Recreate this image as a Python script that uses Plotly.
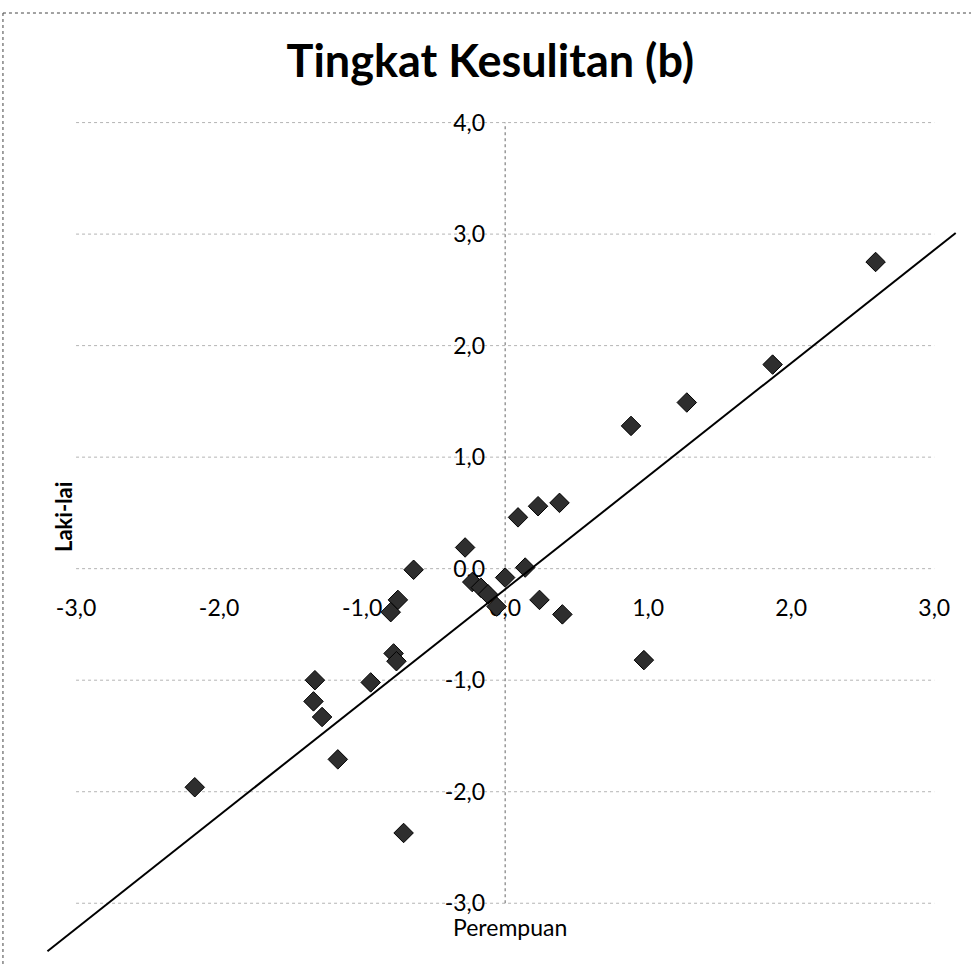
import plotly.graph_objects as go

# Item difficulty estimates (b): female group on x, male group on y
perempuan = [2.59, 1.87, 1.27, 0.88, 0.38, 0.23, 0.09, 0.14, 0.00, -0.06,
             0.24, 0.40, -0.28, -0.23, -0.17, -0.12, -0.64, -0.75, -0.80,
             -0.78, -0.76, -0.94, -1.33, -1.34, -1.28, -1.17, -2.17, -0.71, 0.97]
laki_laki = [2.75, 1.83, 1.49, 1.28, 0.59, 0.56, 0.46, 0.01, -0.08, -0.34,
             -0.28, -0.41, 0.19, -0.12, -0.17, -0.23, -0.01, -0.28, -0.39,
             -0.76, -0.83, -1.02, -1.00, -1.19, -1.33, -1.71, -1.96, -2.37, -0.82]

# Reference line endpoints
line_x = [-3.20, 3.15]
line_y = [-3.43, 3.01]

x_ticks = [-3, -2, -1, 0, 1, 2, 3]
x_labels = ["-3,0", "-2,0", "-1,0", "0,0", "1,0", "2,0", "3,0"]
y_ticks = [-3, -2, -1, 0, 1, 2, 3, 4]
y_labels = ["-3,0", "-2,0", "-1,0", "0,0", "1,0", "2,0", "3,0", "4,0"]

x_range = [-3.35, 3.25]
y_range = [-3.5, 4.05]

fig = go.Figure()

fig.add_trace(go.Scatter(
    x=perempuan, y=laki_laki, mode="markers",
    marker=dict(symbol="diamond", size=15, color="#2e2e2e",
                line=dict(color="#000000", width=1)),
    showlegend=False, hoverinfo="x+y",
))

fig.add_trace(go.Scatter(
    x=line_x, y=line_y, mode="lines",
    line=dict(color="#000000", width=2),
    showlegend=False, hoverinfo="skip",
))

shapes = []
# dotted horizontal gridlines across the plot area
for v in y_ticks:
    shapes.append(dict(type="line", xref="x", yref="y",
                       x0=x_ticks[0], x1=x_ticks[-1], y0=v, y1=v,
                       line=dict(color="#b4b4b4", width=1, dash="dot"),
                       layer="below"))
# vertical axis line through x = 0
shapes.append(dict(type="line", xref="x", yref="y",
                   x0=0, x1=0, y0=y_ticks[0], y1=y_ticks[-1],
                   line=dict(color="#666666", width=1, dash="dot"),
                   layer="below"))
# chart-area border (top and left edges)
shapes.append(dict(type="line", xref="paper", yref="paper",
                   x0=-0.0244, x1=1.01, y0=1.1235, y1=1.1235,
                   line=dict(color="#444444", width=1, dash="dot")))
shapes.append(dict(type="line", xref="paper", yref="paper",
                   x0=-0.0244, x1=-0.0244, y0=1.1235, y1=-0.01,
                   line=dict(color="#444444", width=1, dash="dot")))

x_pos = (0 - x_range[0]) / (x_range[1] - x_range[0])
y_pos = (0 - y_range[0]) / (y_range[1] - y_range[0])

fig.update_layout(
    width=971, height=965,
    margin=dict(l=26, r=1, t=117, b=6),
    paper_bgcolor="white", plot_bgcolor="white",
    font=dict(family="Lato, 'Open Sans', sans-serif", color="#000000"),
    title=dict(text="<b>Tingkat Kesulitan (b)</b>",
               font=dict(family="Lato, sans-serif", size=45, color="#000000"),
               x=0.505, xref="container", xanchor="center",
               y=1 - 61 / 965, yref="container", yanchor="middle"),
    xaxis=dict(range=x_range, tickvals=x_ticks, ticktext=x_labels,
               showgrid=False, zeroline=False, showline=False, ticks="",
               anchor="free", position=y_pos, side="bottom",
               ticklabelstandoff=23, layer="below traces",
               tickfont=dict(size=23, color="#000000")),
    yaxis=dict(range=y_range, tickvals=y_ticks, ticktext=y_labels,
               showgrid=False, zeroline=False, showline=False, ticks="",
               anchor="free", position=x_pos, side="left",
               ticklabelstandoff=20, layer="below traces",
               tickfont=dict(size=23, color="#000000")),
    shapes=shapes,
    annotations=[
        dict(text="<b>Laki-lai</b>", xref="paper", yref="paper",
             x=(63 - 26) / 944, y=1 - (517 - 117) / 842,
             xanchor="center", yanchor="middle",
             textangle=-90, showarrow=False,
             font=dict(size=22, color="#000000")),
        dict(text="Perempuan", xref="paper", yref="paper",
             x=(510 - 26) / 944, y=1 - (927 - 117) / 842,
             xanchor="center", yanchor="middle",
             showarrow=False, font=dict(size=23, color="#000000")),
    ],
)

fig.write_html("out.html")
